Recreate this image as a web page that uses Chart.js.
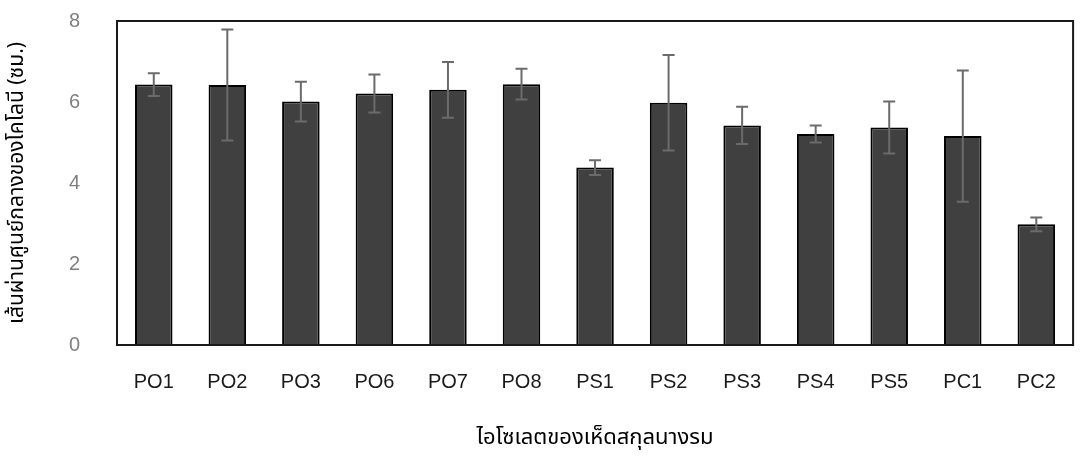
<!DOCTYPE html>
<html>
<head>
<meta charset="utf-8">
<script src="https://cdn.jsdelivr.net/npm/chart.js@4"></script>
<style>
  html, body { margin: 0; padding: 0; background: #fff; }
  #wrap { width: 1081px; height: 471px; }
</style>
</head>
<body>
<div id="wrap"><canvas id="chart"></canvas></div>
<script>
// isolates, mean colony diameter and error
const isolates = ['PO1', 'PO2', 'PO3', 'PO6', 'PO7', 'PO8', 'PS1', 'PS2', 'PS3', 'PS4', 'PS5', 'PC1', 'PC2'];
const diameter = [6.43, 6.42, 6.01, 6.21, 6.30, 6.44, 4.38, 5.98, 5.42, 5.21, 5.37, 5.16, 2.98];
const errorBar = [0.28, 1.37, 0.49, 0.47, 0.69, 0.38, 0.18, 1.18, 0.46, 0.21, 0.64, 1.62, 0.17];
const yTicks = [0, 2, 4, 6, 8];

const thaiFont = "'Noto Sans Thai', 'Noto Sans', 'Liberation Sans', sans-serif";
const latinFont = "'Liberation Sans', Arial, sans-serif";

// error bars drawn from the y scale
const errorBars = {
  id: 'errorBars',
  afterDatasetsDraw(chart) {
    const ctx = chart.ctx;
    const y = chart.scales.y;
    const meta = chart.getDatasetMeta(0);
    ctx.save();
    ctx.strokeStyle = '#6b6b6b';
    ctx.lineWidth = 2;
    meta.data.forEach((bar, i) => {
      const top = y.getPixelForValue(diameter[i] + errorBar[i]);
      const bot = y.getPixelForValue(diameter[i] - errorBar[i]);
      ctx.beginPath();
      ctx.moveTo(bar.x, top); ctx.lineTo(bar.x, bot);
      ctx.moveTo(bar.x - 6, top); ctx.lineTo(bar.x + 6, top);
      ctx.moveTo(bar.x - 6, bot); ctx.lineTo(bar.x + 6, bot);
      ctx.stroke();
    });
    ctx.restore();
  }
};

// frame round the plot area
const frame = {
  id: 'frame',
  afterDraw(chart) {
    const a = chart.chartArea;
    const ctx = chart.ctx;
    ctx.save();
    ctx.strokeStyle = '#1a1a1a';
    ctx.lineWidth = 2;
    ctx.strokeRect(a.left, a.top, a.right - a.left, a.bottom - a.top);
    ctx.restore();
  }
};

new Chart(document.getElementById('chart'), {
  type: 'bar',
  data: {
    labels: isolates,
    datasets: [{
      data: diameter,
      backgroundColor: '#404040',
      borderColor: '#000000',
      borderWidth: 2,
      categoryPercentage: 1,
      barPercentage: 0.51
    }]
  },
  options: {
    responsive: true,
    maintainAspectRatio: false,
    animation: false,
    layout: { padding: { top: 21, right: 6, left: 0, bottom: 0 } },
    plugins: {
      legend: { display: false },
      tooltip: { enabled: false }
    },
    scales: {
      y: {
        min: 0,
        max: 8,
        afterBuildTicks: (s) => { s.ticks = yTicks.map(v => ({ value: v })); },
        afterFit: (s) => { s.width = 117; s.paddingTop = 0; s.paddingBottom = 0; },
        grid: { display: false, drawTicks: false },
        border: { display: true, color: '#000', width: 2 },
        ticks: {
          color: '#7f7f7f',
          padding: 37,
          font: { family: latinFont, size: 20 }
        },
        title: {
          display: true,
          text: 'เส้นผ่านศูนย์กลางของโคโลนี (ซม.)',
          color: '#000',
          padding: { top: 6, bottom: 0 },
          font: { family: thaiFont, size: 21 }
        }
      },
      x: {
        afterFit: (s) => { s.height = 126; },
        grid: { display: false, drawTicks: false },
        border: { display: true, color: '#000', width: 2 },
        ticks: {
          color: '#1a1a1a',
          padding: 25,
          maxRotation: 0,
          font: { family: latinFont, size: 20 }
        },
        title: {
          display: true,
          text: 'ไอโซเลตของเห็ดสกุลนางรม',
          color: '#000',
          padding: { top: 0, bottom: 18 },
          font: { family: thaiFont, size: 22 }
        }
      }
    }
  },
  plugins: [errorBars, frame]
});
</script>
</body>
</html>
